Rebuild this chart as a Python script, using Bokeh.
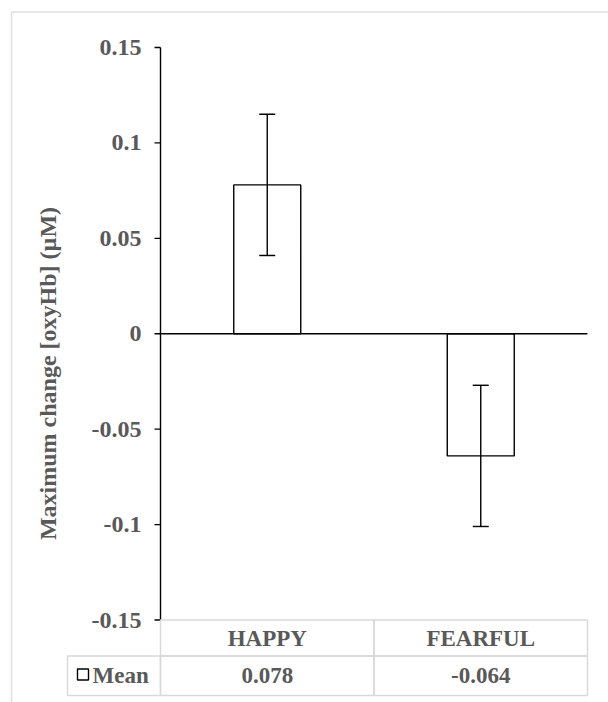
import math
from bokeh.plotting import figure
from bokeh.models import Range1d, BoxAnnotation, Label, ColumnDataSource
from bokeh.core.properties import value
from bokeh.embed import file_html
from bokeh.resources import INLINE

# ---------------- data ----------------
categories = ["HAPPY", "FEARFUL"]
means = [0.078, -0.064]
errors = [0.037, 0.037]
series_name = "Mean"
y_ticks = [-0.15, -0.1, -0.05, 0, 0.05, 0.1, 0.15]
y_tick_labels = ["-0.15", "-0.1", "-0.05", "0", "0.05", "0.1", "0.15"]
y_title = "Maximum change [oxyHb] (\u00b5M)"

# ---------------- layout ----------------
W, H = 608, 702
FONT = "Liberation Serif"
GREY_TXT = "#595959"
GRID = "#d9d9d9"

AX_TOP_PX, AX_BOT_PX = 47, 619.5          # pixel rows of top / bottom tick
CAT_L_PX, CAT_R_PX = 160, 587             # pixel extent of category band
n = len(categories)
PPU_X = (CAT_R_PX - CAT_L_PX) / n
ymin, ymax = y_ticks[0], y_ticks[-1]
PPU_Y = (AX_BOT_PX - AX_TOP_PX) / (ymax - ymin)


def xd(px):
    return (px - CAT_L_PX) / PPU_X


def yd(py):
    return ymax - (py - AX_TOP_PX) / PPU_Y


def box(left, right, top, bottom, color, width, fill=None):
    return BoxAnnotation(left=left, right=right, top=top, bottom=bottom,
                         fill_color=fill, fill_alpha=1.0,
                         line_color=color, line_alpha=1.0, line_width=width)


p = figure(width=W, height=H, output_backend="svg", toolbar_location=None,
           x_axis_location=None, y_axis_location=None,
           min_border_left=0, min_border_right=0,
           min_border_top=0, min_border_bottom=0,
           x_range=Range1d(xd(0), xd(W)),
           y_range=Range1d(yd(H), yd(0)))
p.outline_line_color = None
p.grid.visible = False
p.background_fill_color = "white"
p.border_fill_color = "white"

# outer chart border
p.add_layout(box(xd(11), xd(W + 20), yd(11.5), yd(H + 20), "#e0e0e0", 1.6))

# ---- value axis (drawn through the data scales) ----
TICK_LEN = 6 / PPU_X
p.segment(x0=[0], x1=[0], y0=[ymin], y1=[ymax], line_color="black", line_width=1.4)
p.segment(x0=[-TICK_LEN] * len(y_ticks), x1=[0] * len(y_ticks), y0=y_ticks, y1=y_ticks,
          line_color="black", line_width=1.4)
p.text(x=[xd(141)] * len(y_ticks), y=y_ticks, text=y_tick_labels,
       text_align="right", text_baseline="middle", text_font=value(FONT),
       text_font_style="bold", text_font_size="24px", text_color=GREY_TXT)

# bars
xs = [i + 0.5 for i in range(n)]
src = ColumnDataSource(dict(
    x=xs, top=means,
    upper=[m + e for m, e in zip(means, errors)],
    lower=[m - e for m, e in zip(means, errors)],
    cap_l=[x - 16 / PPU_X / 2 for x in xs],
    cap_r=[x + 16 / PPU_X / 2 for x in xs],
))
p.vbar(x="x", top="top", bottom=0, width=67 / PPU_X, source=src,
       fill_color="white", line_color="black", line_width=1.4)

# zero (category) axis line
p.segment(x0=[0], x1=[n], y0=[0], y1=[0], line_color="black", line_width=1.4)

# error bars
p.segment(x0="x", x1="x", y0="lower", y1="upper", source=src,
          line_color="black", line_width=1.4)
p.segment(x0="cap_l", x1="cap_r", y0="upper", y1="upper", source=src,
          line_color="black", line_width=1.4)
p.segment(x0="cap_l", x1="cap_r", y0="lower", y1="lower", source=src,
          line_color="black", line_width=1.4)

# data table
ROW0_T, ROW1_T, ROW1_B = AX_BOT_PX, 655.5, 695
LEFT_CELL_L = 67
for i in range(n):
    for (t, b) in [(ROW0_T, ROW1_T), (ROW1_T, ROW1_B)]:
        p.add_layout(box(i, i + 1, yd(t), yd(b), GRID, 1.5))
p.add_layout(box(xd(LEFT_CELL_L), 0, yd(ROW1_T), yd(ROW1_B), GRID, 1.5))
# legend key (series marker in the data table)
p.add_layout(box(xd(77), xd(88), yd(668.5), yd(679.5), "black", 1.4, fill="white"))
p.add_layout(Label(x=xd(92), y=yd(675), text=series_name, text_align="left",
                   text_baseline="middle", text_font=FONT, text_font_style="bold",
                   text_font_size="23px", text_color=GREY_TXT))

p.text(x=xs, y=[yd((ROW0_T + ROW1_T) / 2)] * n, text=categories,
       text_align="center", text_baseline="middle", text_font=value(FONT),
       text_font_style="bold", text_font_size="23px", text_color=GREY_TXT)
p.text(x=xs, y=[yd((ROW1_T + ROW1_B) / 2)] * n, text=[f"{m:.3f}" for m in means],
       text_align="center", text_baseline="middle", text_font=value(FONT),
       text_font_style="bold", text_font_size="23px", text_color=GREY_TXT)

# y title
p.add_layout(Label(x=xd(47), y=yd(373), text=y_title, angle=math.pi / 2,
                   text_align="center", text_baseline="middle", text_font=FONT,
                   text_font_style="bold", text_font_size="24px", text_color=GREY_TXT))

open("out.html", "w").write(file_html(p, INLINE))
